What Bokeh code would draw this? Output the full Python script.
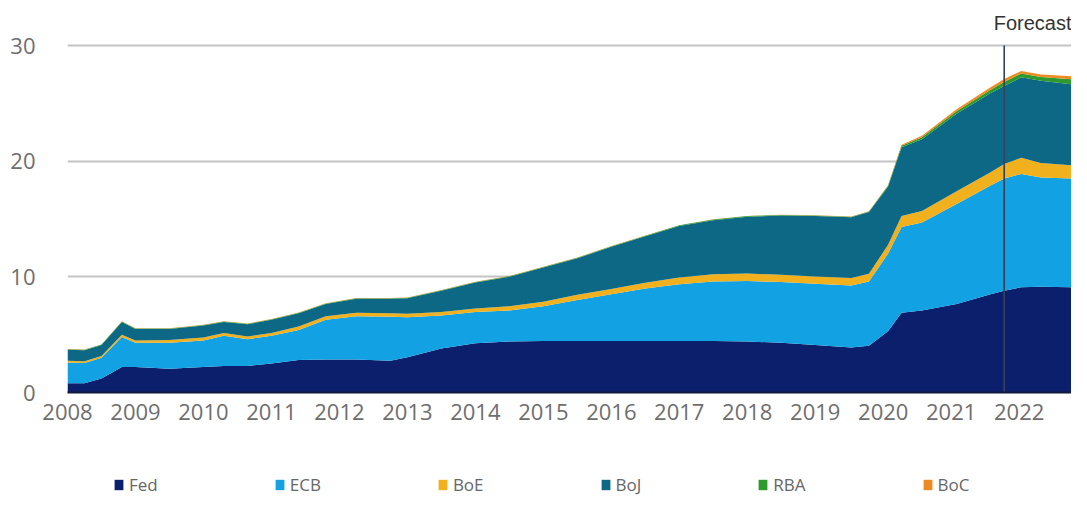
from bokeh.plotting import figure
from bokeh.layouts import column
from bokeh.models import ColumnDataSource, Legend, LegendItem, Label, Range1d
from bokeh.embed import file_html
from bokeh.resources import INLINE

# ---- data (USD trillions) ----
years = [2008.00, 2008.25, 2008.50, 2008.80, 2009.00, 2009.50, 2010.00, 2010.30,
         2010.65, 2011.00, 2011.40, 2011.80, 2012.25, 2012.75, 2013.00, 2013.50,
         2014.00, 2014.50, 2015.00, 2015.50, 2016.00, 2016.50, 2017.00, 2017.50,
         2018.00, 2018.50, 2019.00, 2019.53, 2019.79, 2020.07, 2020.27, 2020.57,
         2021.08, 2021.58, 2021.78, 2022.03, 2022.32, 2022.77]
fed = [0.80, 0.80, 1.20, 2.20, 2.20, 2.05, 2.20, 2.30, 2.30, 2.50, 2.80, 2.85, 2.85,
       2.75, 3.05, 3.80, 4.25, 4.40, 4.45, 4.45, 4.45, 4.45, 4.45, 4.45, 4.40, 4.30,
       4.10, 3.90, 4.05, 5.30, 6.90, 7.10, 7.65, 8.50, 8.80, 9.10, 9.15, 9.10]
ecb = [1.80, 1.75, 1.80, 2.60, 2.10, 2.25, 2.30, 2.60, 2.30, 2.40, 2.60, 3.45, 3.75,
       3.80, 3.45, 2.85, 2.70, 2.70, 3.00, 3.55, 4.05, 4.55, 4.90, 5.15, 5.25, 5.25,
       5.30, 5.35, 5.55, 6.70, 7.40, 7.60, 8.65, 9.40, 9.70, 9.80, 9.45, 9.40]
boe = [0.15, 0.15, 0.15, 0.20, 0.20, 0.25, 0.25, 0.25, 0.25, 0.25, 0.30, 0.30, 0.30,
       0.30, 0.30, 0.30, 0.32, 0.35, 0.40, 0.45, 0.45, 0.48, 0.60, 0.62, 0.63, 0.63,
       0.63, 0.65, 0.67, 0.75, 0.95, 1.00, 1.10, 1.15, 1.25, 1.40, 1.25, 1.15]
boj = [0.95, 0.95, 0.95, 1.10, 1.00, 0.95, 1.05, 0.95, 1.05, 1.15, 1.15, 1.05, 1.20,
       1.25, 1.35, 1.85, 2.23, 2.55, 2.95, 3.15, 3.65, 4.02, 4.45, 4.68, 4.92, 5.12,
       5.22, 5.25, 5.33, 5.05, 5.95, 6.20, 6.70, 6.85, 6.75, 6.95, 7.10, 7.00]
rba = [0.04, 0.04, 0.04, 0.04, 0.04, 0.04, 0.04, 0.04, 0.04, 0.04, 0.05, 0.05, 0.05,
       0.05, 0.05, 0.05, 0.05, 0.05, 0.05, 0.05, 0.05, 0.05, 0.05, 0.05, 0.05, 0.05,
       0.05, 0.05, 0.05, 0.08, 0.13, 0.17, 0.22, 0.28, 0.35, 0.33, 0.33, 0.43]
boc = [0.02, 0.02, 0.02, 0.02, 0.02, 0.02, 0.02, 0.02, 0.02, 0.02, 0.02, 0.02, 0.02,
       0.02, 0.02, 0.02, 0.02, 0.02, 0.02, 0.02, 0.02, 0.02, 0.02, 0.02, 0.02, 0.02,
       0.02, 0.02, 0.03, 0.04, 0.09, 0.13, 0.18, 0.22, 0.25, 0.22, 0.22, 0.27]
names = ["Fed", "ECB", "BoE", "BoJ", "RBA", "BoC"]
colors = ["#0b1f6c", "#12a2e3", "#f1b11f", "#0d6885", "#2c9a2c", "#ee8a22"]
x_ticks = list(range(2008, 2023))
y_ticks = [0, 10, 20, 30]
forecast_year = 2021.78
x_start, x_end = 2008.0, 2022.77

src = ColumnDataSource(dict(x=years, Fed=fed, ECB=ecb, BoE=boe, BoJ=boj, RBA=rba, BoC=boc))

# ---- main chart ----
p = figure(width=1071, height=455, output_backend="svg", toolbar_location=None,
           x_range=Range1d(x_start, x_end), y_range=Range1d(0, 33.72),
           min_border_left=67, min_border_right=0, min_border_top=2, min_border_bottom=63)
p.outline_line_color = None
p.background_fill_color = "white"

p.varea_stack(stackers=names, x="x", color=colors, source=src)

p.segment(x0=[forecast_year], y0=[0], x1=[forecast_year], y1=[y_ticks[-1]],
          line_color="#34425e", line_width=1.6)

p.add_layout(Label(x=x_end, y=31.0, text="Forecast", text_align="right",
                   text_font="Liberation Sans", text_font_size="20px",
                   text_color="#333333"))

p.xaxis.ticker = x_ticks
p.yaxis.ticker = y_ticks
for ax in (p.xaxis, p.yaxis):
    ax.major_tick_line_color = None
    ax.minor_tick_line_color = None
    ax.major_label_text_font = "Open Sans"
    ax.major_label_text_font_size = "22px"
    ax.major_label_text_color = "#6e6e6e"
p.yaxis.axis_line_color = None
p.yaxis.major_label_standoff = 26
p.xaxis.axis_line_color = "#111a3a"
p.xaxis.axis_line_width = 2
p.xaxis.major_label_standoff = 5

p.xgrid.grid_line_color = None
p.ygrid.grid_line_color = "#c4c4c4"
p.ygrid.grid_line_width = 2

# ---- legend strip (its areas sit outside the visible range; only the legend shows) ----
lg = figure(width=1071, height=52, output_backend="svg", toolbar_location=None,
            x_range=Range1d(x_start, x_end), y_range=Range1d(1000, 1001),
            x_axis_type=None, y_axis_type=None,
            min_border_left=0, min_border_right=0, min_border_top=0, min_border_bottom=0)
lg.outline_line_color = None
lg.xgrid.visible = False
lg.ygrid.visible = False
lrs = lg.varea_stack(stackers=names, x="x", color=colors, source=src)

legend = Legend(items=[LegendItem(label=n, renderers=[r]) for n, r in zip(names, lrs)],
                orientation="horizontal", location=(46, 11), spacing=116,
                padding=0, margin=0, border_line_color=None, background_fill_alpha=0,
                glyph_width=11, glyph_height=13, label_standoff=5, label_height=20,
                label_text_font="Open Sans", label_text_font_size="17px",
                label_text_color="#666666")
lg.add_layout(legend, "center")

layout = column(p, lg, spacing=0)
open("out.html", "w").write(file_html(layout, INLINE))
